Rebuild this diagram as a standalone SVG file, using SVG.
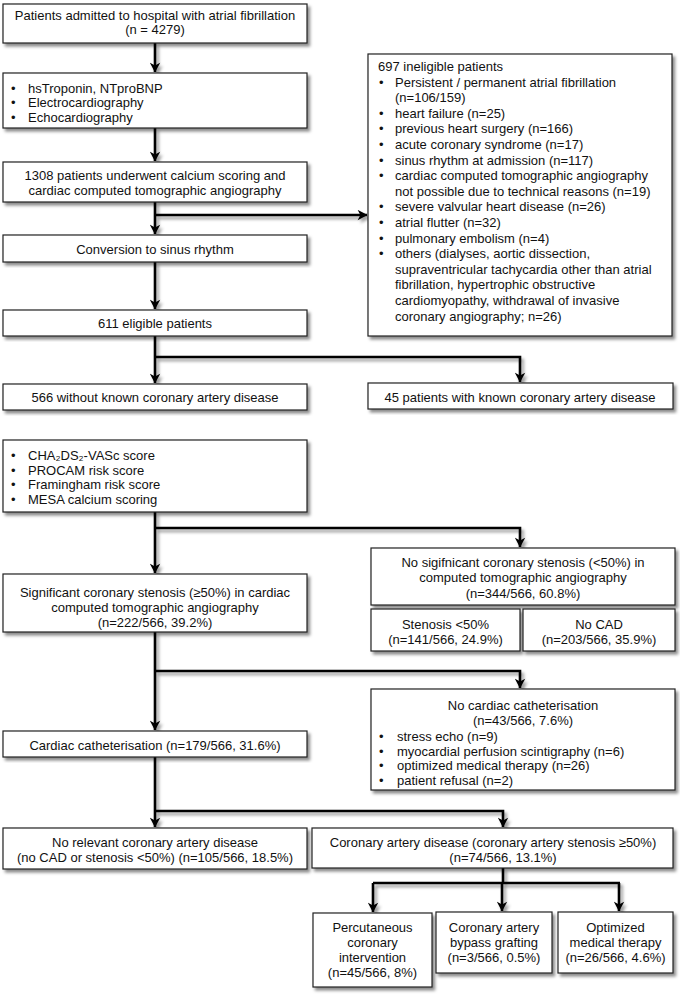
<svg xmlns="http://www.w3.org/2000/svg" width="680" height="995" viewBox="0 0 680 995">
<defs>
<filter id="sh" x="-5%" y="-5%" width="115%" height="125%">
<feDropShadow dx="2.5" dy="3" stdDeviation="1.5" flood-color="#000" flood-opacity="0.45"/>
</filter>
<filter id="shc" filterUnits="userSpaceOnUse" x="0" y="0" width="680" height="995">
<feDropShadow dx="2.5" dy="3" stdDeviation="1.5" flood-color="#000" flood-opacity="0.4"/>
</filter>
<marker id="ah" markerUnits="userSpaceOnUse" markerWidth="11" markerHeight="11" viewBox="0 0 9 10" refX="8.5" refY="5" orient="auto">
<path d="M0,0.3 L9,5 L0,9.7 L2.5,5 z" fill="#000"/>
</marker>
<style>
rect.b{fill:#fff;stroke:#222;stroke-width:1.2;filter:url(#sh)}
text{font-family:"Liberation Sans",Arial,sans-serif;font-size:13px;fill:#111}
text.c{text-anchor:middle}
.con{filter:url(#shc)}
.con path{fill:none;stroke:#000;stroke-width:2.6}
</style>
</defs>
<rect width="680" height="995" fill="#fff"/>
<g class="con">
<path d="M155,43 V72" marker-end="url(#ah)"/>
<path d="M155,128 V161" marker-end="url(#ah)"/>
<path d="M155,202 V234" marker-end="url(#ah)"/>
<path d="M155,215 H367" marker-end="url(#ah)"/>
<path d="M155,262 V309" marker-end="url(#ah)"/>
<path d="M155,336 V383" marker-end="url(#ah)"/>
<path d="M155,357 H520 V382" marker-end="url(#ah)"/>
<path d="M155,512 V573" marker-end="url(#ah)"/>
<path d="M155,528 H520 V547" marker-end="url(#ah)"/>
<path d="M155,632 V730" marker-end="url(#ah)"/>
<path d="M155,671 H520 V688" marker-end="url(#ah)"/>
<path d="M155,757 V827" marker-end="url(#ah)"/>
<path d="M155,811 H503 V827" marker-end="url(#ah)"/>
<path d="M503,868 V883"/>
<path d="M373,883 H620"/>
<path d="M373,883 V912" marker-end="url(#ah)"/>
<path d="M502,883 V911" marker-end="url(#ah)"/>
<path d="M619,883 V911" marker-end="url(#ah)"/>
</g>
<g id="n1"><rect class="b" x="3" y="4" width="304" height="39"/>
<text class="c" x="155" y="19.5">Patients admitted to hospital with atrial fibrillation</text>
<text class="c" x="155" y="34">(n = 4279)</text></g>
<g id="n2"><rect class="b" x="3" y="73" width="304" height="55"/>
<text x="11" y="92.5">•</text><text x="28" y="92.5">hsTroponin, NTproBNP</text>
<text x="11" y="107">•</text><text x="28" y="107">Electrocardiography</text>
<text x="11" y="121.5">•</text><text x="28" y="121.5">Echocardiography</text></g>
<g id="n3"><rect class="b" x="3" y="162" width="304" height="40"/>
<text class="c" x="155" y="179.5">1308 patients underwent calcium scoring and</text>
<text class="c" x="155" y="194.5">cardiac computed tomographic angiography</text></g>
<g id="n4"><rect class="b" x="368" y="54" width="304" height="282"/>
<text x="378" y="71">697 ineligible patients</text>
<text x="379" y="86.6">•</text><text x="395" y="86.6">Persistent / permanent atrial fibrillation</text>
<text x="395" y="102.2">(n=106/159)</text>
<text x="379" y="117.8">•</text><text x="395" y="117.8">heart failure (n=25)</text>
<text x="379" y="133.4">•</text><text x="395" y="133.4">previous heart surgery (n=166)</text>
<text x="379" y="149">•</text><text x="395" y="149">acute coronary syndrome (n=17)</text>
<text x="379" y="164.6">•</text><text x="395" y="164.6">sinus rhythm at admission (n=117)</text>
<text x="379" y="180.2">•</text><text x="395" y="180.2">cardiac computed tomographic angiography</text>
<text x="395" y="195.8">not possible due to technical reasons (n=19)</text>
<text x="379" y="211.4">•</text><text x="395" y="211.4">severe valvular heart disease (n=26)</text>
<text x="379" y="227">•</text><text x="395" y="227">atrial flutter (n=32)</text>
<text x="379" y="242.6">•</text><text x="395" y="242.6">pulmonary embolism (n=4)</text>
<text x="379" y="258.2">•</text><text x="395" y="258.2">others (dialyses, aortic dissection,</text>
<text x="395" y="273.8">supraventricular tachycardia other than atrial</text>
<text x="395" y="289.4">fibrillation, hypertrophic obstructive</text>
<text x="395" y="305">cardiomyopathy, withdrawal of invasive</text>
<text x="395" y="320.6">coronary angiography; n=26)</text></g>
<g id="n5"><rect class="b" x="3" y="235" width="304" height="27"/>
<text class="c" x="155" y="253.5">Conversion to sinus rhythm</text></g>
<g id="n6"><rect class="b" x="3" y="310" width="304" height="26"/>
<text class="c" x="155" y="327.5">611 eligible patients</text></g>
<g id="n7"><rect class="b" x="3" y="384" width="304" height="26"/>
<text class="c" x="155" y="401.5">566 without known coronary artery disease</text></g>
<g id="n8"><rect class="b" x="368" y="383" width="305" height="26"/>
<text class="c" x="520" y="401.5">45 patients with known coronary artery disease</text></g>
<g id="n9"><rect class="b" x="3" y="440" width="304" height="72"/>
<text x="11" y="460">•</text><text x="28" y="460">CHA₂DS₂-VASc score</text>
<text x="11" y="474.5">•</text><text x="28" y="474.5">PROCAM risk score</text>
<text x="11" y="489">•</text><text x="28" y="489">Framingham risk score</text>
<text x="11" y="504">•</text><text x="28" y="504">MESA calcium scoring</text></g>
<g id="n10"><rect class="b" x="371" y="548" width="304" height="57"/>
<text class="c" x="523" y="566.5">No sigifnicant coronary stenosis (&lt;50%) in</text>
<text class="c" x="523" y="582">computed tomographic angiography</text>
<text class="c" x="523" y="598">(n=344/566, 60.8%)</text></g>
<g id="n11"><rect class="b" x="371" y="609" width="149" height="42"/>
<text class="c" x="445.5" y="628.5">Stenosis &lt;50%</text>
<text class="c" x="445.5" y="643.5">(n=141/566, 24.9%)</text></g>
<g id="n12"><rect class="b" x="523" y="609" width="152" height="42"/>
<text class="c" x="599" y="628.5">No CAD</text>
<text class="c" x="599" y="643.5">(n=203/566, 35.9%)</text></g>
<g id="n13"><rect class="b" x="3" y="574" width="304" height="58"/>
<text class="c" x="155" y="596.5">Significant coronary stenosis (≥50%) in cardiac</text>
<text class="c" x="155" y="611.5">computed tomographic angiography</text>
<text class="c" x="155" y="626.5">(n=222/566, 39.2%)</text></g>
<g id="n14"><rect class="b" x="371" y="689" width="304" height="101"/>
<text class="c" x="523" y="709.5">No cardiac catheterisation</text>
<text class="c" x="523" y="724.5">(n=43/566, 7.6%)</text>
<text x="379" y="741">•</text><text x="397" y="741">stress echo (n=9)</text>
<text x="379" y="755.5">•</text><text x="397" y="755.5">myocardial perfusion scintigraphy (n=6)</text>
<text x="379" y="770">•</text><text x="397" y="770">optimized medical therapy (n=26)</text>
<text x="379" y="784.5">•</text><text x="397" y="784.5">patient refusal (n=2)</text></g>
<g id="n15"><rect class="b" x="3" y="731" width="304" height="26"/>
<text class="c" x="155" y="749.5">Cardiac catheterisation (n=179/566, 31.6%)</text></g>
<g id="n16"><rect class="b" x="3" y="828" width="304" height="41"/>
<text class="c" x="155" y="846.5">No relevant coronary artery disease</text>
<text class="c" x="155" y="861.5">(no CAD or stenosis &lt;50%) (n=105/566, 18.5%)</text></g>
<g id="n17"><rect class="b" x="312" y="828" width="361" height="40"/>
<text class="c" x="493" y="847">Coronary artery disease (coronary artery stenosis ≥50%)</text>
<text class="c" x="503" y="862">(n=74/566, 13.1%)</text></g>
<g id="n18"><rect class="b" x="313" y="913" width="119" height="74"/>
<text class="c" x="372.5" y="931.5">Percutaneous</text>
<text class="c" x="372.5" y="946.5">coronary</text>
<text class="c" x="372.5" y="961.5">intervention</text>
<text class="c" x="372.5" y="976.5">(n=45/566, 8%)</text></g>
<g id="n19"><rect class="b" x="436" y="912" width="116" height="61"/>
<text class="c" x="494" y="931.5">Coronary artery</text>
<text class="c" x="494" y="946.5">bypass grafting</text>
<text class="c" x="494" y="961.5">(n=3/566, 0.5%)</text></g>
<g id="n20"><rect class="b" x="558" y="912" width="115" height="61"/>
<text class="c" x="615.5" y="931.5">Optimized</text>
<text class="c" x="615.5" y="946.5">medical therapy</text>
<text class="c" x="615.5" y="961.5">(n=26/566, 4.6%)</text></g>
</svg>
